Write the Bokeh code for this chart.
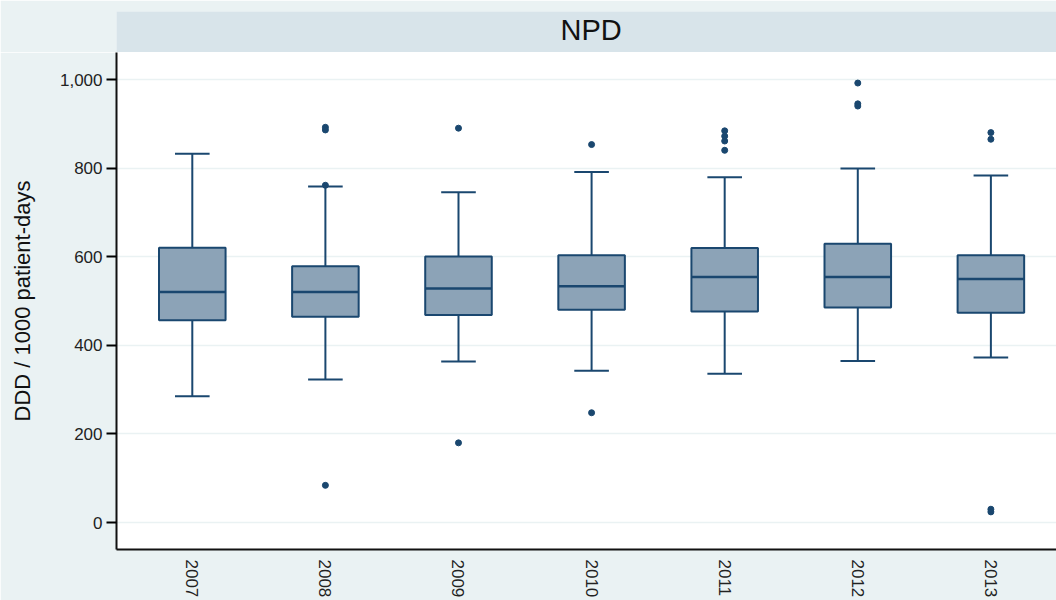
from bokeh.plotting import figure
from bokeh.layouts import column
from bokeh.models import ColumnDataSource, Range1d, FixedTicker, NumeralTickFormatter
from bokeh.transform import dodge
from bokeh.core.properties import value
from bokeh.embed import file_html
from bokeh.resources import INLINE

# ---- data ----
years = ["2007", "2008", "2009", "2010", "2011", "2012", "2013"]
lower_whisker = [285, 323, 364, 343, 336, 365, 373]
q1 = [457, 465, 469, 481, 477, 486, 474]
median = [521, 521, 529, 534, 555, 555, 550]
q3 = [621, 579, 601, 604, 620, 630, 604]
upper_whisker = [833, 759, 746, 792, 780, 800, 784]
outlier_year = ["2008", "2008", "2008", "2008", "2009", "2009", "2010", "2010",
                "2011", "2011", "2011", "2011", "2012", "2012", "2012",
                "2013", "2013", "2013", "2013"]
outlier_value = [893, 887, 762, 84, 891, 180, 854, 248,
                 885, 873, 862, 841, 993, 946, 941,
                 881, 866, 30, 24]
y_ticks = [0, 200, 400, 600, 800, 1000]

# ---- styling ----
PAGE_BG = "#eaf2f3"
BAND_BG = "#d8e4ea"
NAVY = "#1a476f"
BOX_FILL = "#8ca3b7"
FONT = "Liberation Sans"

pos = {y: i + 1 for i, y in enumerate(years)}
src = ColumnDataSource(dict(
    x=[pos[y] for y in years], lo=lower_whisker, q1=q1, med=median, q3=q3, hi=upper_whisker,
))
out_src = ColumnDataSource(dict(x=[pos[y] for y in outlier_year], y=outlier_value))

# ---- header band with panel title ----
hdr = figure(width=1056, height=52, output_backend="svg", toolbar_location=None,
             x_range=Range1d(0, 1), y_range=Range1d(0, 1),
             min_border_left=116, min_border_right=0, min_border_top=11, min_border_bottom=0)
hdr.axis.visible = False
hdr.grid.visible = False
hdr.outline_line_color = None
hdr.background_fill_color = BAND_BG
hdr.border_fill_color = PAGE_BG
hdr.text(x=[0.505], y=[0.55], text=["NPD"], text_align="center", text_baseline="middle",
         text_font=value(FONT), text_font_size="29px", text_color="#111111")

# ---- main plot ----
p = figure(width=1056, height=548, output_backend="svg", toolbar_location=None,
           x_range=Range1d(0.4305, 7.493), y_range=Range1d(-61, 1062),
           min_border_left=116, min_border_right=0, min_border_top=0, min_border_bottom=49)
p.background_fill_color = "white"
p.border_fill_color = PAGE_BG
p.outline_line_color = None

# whiskers
p.segment(x0="x", y0="lo", x1="x", y1="q1", source=src, line_color=NAVY, line_width=2)
p.segment(x0="x", y0="q3", x1="x", y1="hi", source=src, line_color=NAVY, line_width=2)
p.segment(x0=dodge("x", -0.13), y0="lo", x1=dodge("x", 0.13), y1="lo", source=src,
          line_color=NAVY, line_width=2)
p.segment(x0=dodge("x", -0.13), y0="hi", x1=dodge("x", 0.13), y1="hi", source=src,
          line_color=NAVY, line_width=2)
# boxes
p.vbar(x="x", width=0.5, bottom="q1", top="q3", source=src,
       fill_color=BOX_FILL, line_color=NAVY, line_width=2)
# medians
p.segment(x0=dodge("x", -0.25), y0="med", x1=dodge("x", 0.25), y1="med", source=src,
          line_color=NAVY, line_width=2.5)
# outliers
p.scatter(x="x", y="y", source=out_src, size=6, fill_color=NAVY, line_color=NAVY)

# grid
p.xgrid.visible = False
p.ygrid.ticker = FixedTicker(ticks=y_ticks)
p.ygrid.grid_line_color = PAGE_BG
p.ygrid.grid_line_width = 1.5

# y axis
p.yaxis.ticker = FixedTicker(ticks=y_ticks)
p.yaxis.formatter = NumeralTickFormatter(format="0,0")
p.yaxis.axis_label = "DDD / 1000 patient-days"
p.yaxis.axis_label_text_font = FONT
p.yaxis.axis_label_text_font_size = "22px"
p.yaxis.axis_label_text_font_style = "normal"
p.yaxis.axis_label_text_color = "#111111"
p.yaxis.axis_label_standoff = 22
p.yaxis.major_tick_out = 10
p.yaxis.major_tick_in = 0
p.yaxis.major_label_standoff = 4
p.yaxis.minor_tick_line_color = None

# x axis
p.xaxis.ticker = FixedTicker(ticks=list(pos.values()))
p.xaxis.major_label_overrides = {v: k for k, v in pos.items()}
p.xaxis.major_label_orientation = "vertical"
p.xaxis.major_tick_line_color = None
p.xaxis.major_tick_out = 0
p.xaxis.major_tick_in = 0
p.xaxis.minor_tick_line_color = None
p.xaxis.major_label_standoff = 10

for ax in (p.xaxis, p.yaxis):
    ax.axis_line_color = "#111111"
    ax.axis_line_width = 2
    ax.major_tick_line_width = 2
    ax.major_label_text_font = FONT
    ax.major_label_text_font_size = "17px"
    ax.major_label_text_color = "#222222"

layout = column(hdr, p, spacing=0)
open("out.html", "w").write(file_html(layout, INLINE))
